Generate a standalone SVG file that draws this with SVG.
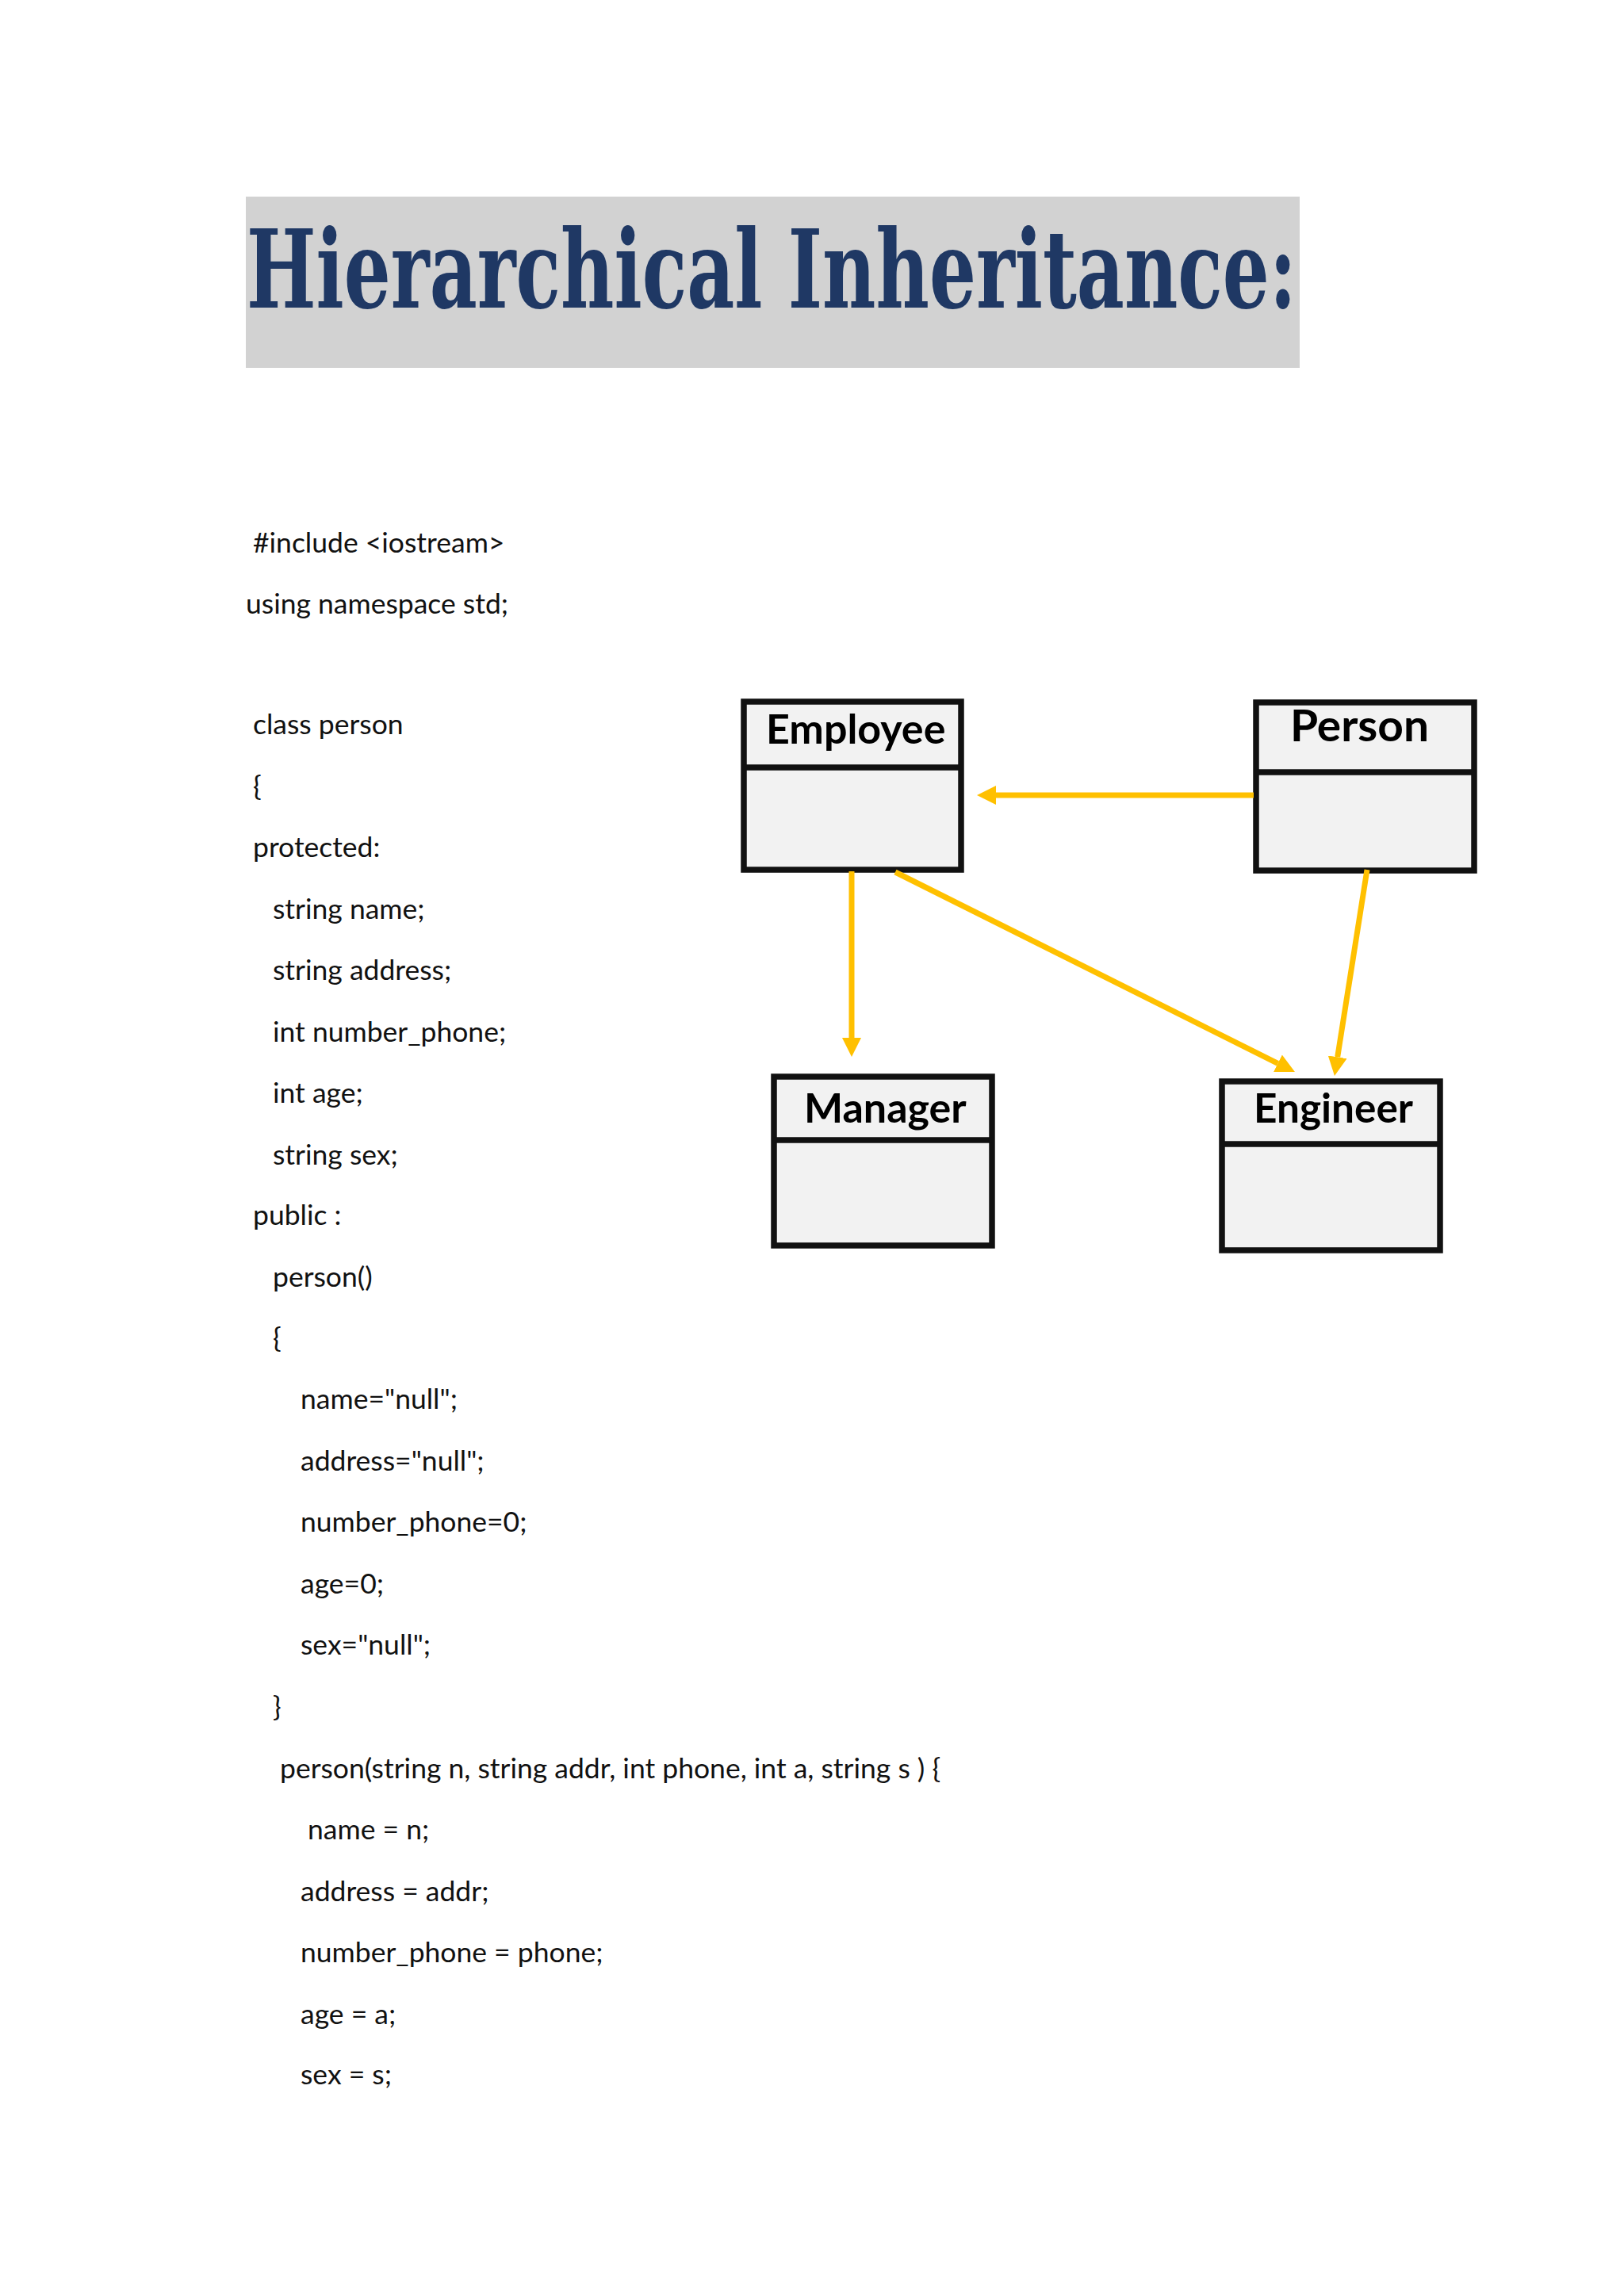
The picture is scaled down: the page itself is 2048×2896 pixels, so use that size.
<svg xmlns="http://www.w3.org/2000/svg" width="2048" height="2896" viewBox="0 0 2048 2896">
<style>
.c{font-family:"Lato","Carlito","Liberation Sans",sans-serif;font-size:35.5px;fill:#111}
.b{font-family:"Lato","Carlito","Liberation Sans",sans-serif;font-size:52px;font-weight:700;fill:#000}
.box{fill:#F2F2F2;stroke:#111;stroke-width:7.5}
.div{stroke:#111;stroke-width:7.5}
.a{stroke:#FFC000;stroke-width:7;fill:none;marker-end:url(#ah)}
.t{font-family:"DejaVu Serif","Liberation Serif",serif;font-weight:700;font-size:136px;fill:#1F3864}
</style>
<defs><marker id="ah" markerUnits="userSpaceOnUse" markerWidth="26" markerHeight="26" refX="0" refY="12" orient="auto"><path d="M0 0L24 12L0 24Z" fill="#FFC000"/></marker></defs>
<rect width="2048" height="2896" fill="#fff"/>
<g id="title"><rect x="310" y="248" width="1329" height="216" fill="#D2D2D2"/><text class="t" x="311" y="388" textLength="1324" lengthAdjust="spacingAndGlyphs">Hierarchical Inheritance:</text></g>
<g id="code">
<text class="c" x="319" y="697">#include &lt;iostream&gt;</text>
<text class="c" x="310" y="774">using namespace std;</text>
<text class="c" x="319" y="926">class person</text>
<text class="c" x="319" y="1004">{</text>
<text class="c" x="319" y="1081">protected:</text>
<text class="c" x="344" y="1159">string name;</text>
<text class="c" x="344" y="1236">string address;</text>
<text class="c" x="344" y="1314">int number_phone;</text>
<text class="c" x="344" y="1391">int age;</text>
<text class="c" x="344" y="1469">string sex;</text>
<text class="c" x="319" y="1545">public :</text>
<text class="c" x="344" y="1623">person()</text>
<text class="c" x="344" y="1700">{</text>
<text class="c" x="379" y="1777">name="null";</text>
<text class="c" x="379" y="1855">address="null";</text>
<text class="c" x="379" y="1932">number_phone=0;</text>
<text class="c" x="379" y="2010">age=0;</text>
<text class="c" x="379" y="2087">sex="null";</text>
<text class="c" x="344" y="2165">}</text>
<text class="c" x="353" y="2243">person(string n, string addr, int phone, int a, string s ) {</text>
<text class="c" x="388" y="2320">name = n;</text>
<text class="c" x="379" y="2398">address = addr;</text>
<text class="c" x="379" y="2475">number_phone = phone;</text>
<text class="c" x="379" y="2553">age = a;</text>
<text class="c" x="379" y="2629">sex = s;</text>
</g>
<g id="employee"><rect class="box" x="938" y="885" width="274" height="212"/><line class="div" x1="938" y1="968" x2="1212" y2="968"/><text class="b" x="966" y="938">Employee</text></g>
<g id="person"><rect class="box" x="1584" y="886" width="275" height="212"/><line class="div" x1="1584" y1="974" x2="1859" y2="974"/><text class="b" x="1627" y="935" style="font-size:56px" textLength="175" lengthAdjust="spacingAndGlyphs">Person</text></g>
<g id="manager"><rect class="box" x="976" y="1358" width="275" height="213"/><line class="div" x1="976" y1="1438" x2="1251" y2="1438"/><text class="b" x="1014" y="1416">Manager</text></g>
<g id="engineer"><rect class="box" x="1541" y="1364" width="275" height="213"/><line class="div" x1="1541" y1="1443" x2="1816" y2="1443"/><text class="b" x="1581" y="1416" textLength="201" lengthAdjust="spacingAndGlyphs">Engineer</text></g>
<g id="connectors">
<line class="a" x1="1581" y1="1003" x2="1256" y2="1003"/>
<line class="a" x1="1074" y1="1099" x2="1074" y2="1309"/>
<line class="a" x1="1129" y1="1100" x2="1611.5" y2="1341.3"/>
<line class="a" x1="1724" y1="1097" x2="1686.7" y2="1333.3"/>
</g>
</svg>
